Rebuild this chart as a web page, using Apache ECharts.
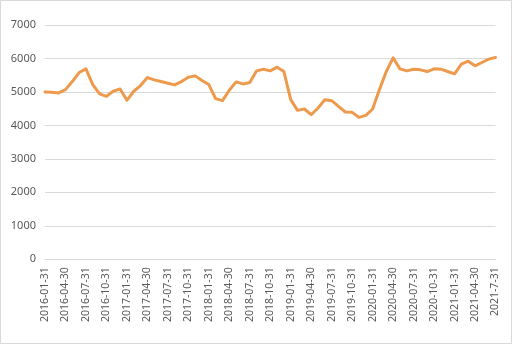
<!DOCTYPE html>
<html>
<head>
<meta charset="utf-8">
<script src="https://cdn.jsdelivr.net/npm/echarts@6/dist/echarts.min.js"></script>
<style>
html,body{margin:0;padding:0;background:#fff;}
#chart{width:513px;height:345px;}
</style>
</head>
<body>
<div id="chart"></div>
<script>
const categories = [
"2016-01-31","2016-02-29","2016-03-31","2016-04-30","2016-05-31","2016-06-30","2016-07-31","2016-08-31","2016-09-30","2016-10-31","2016-11-30","2016-12-31",
"2017-01-31","2017-02-28","2017-03-31","2017-04-30","2017-05-31","2017-06-30","2017-07-31","2017-08-31","2017-09-30","2017-10-31","2017-11-30","2017-12-31",
"2018-01-31","2018-02-28","2018-03-31","2018-04-30","2018-05-31","2018-06-30","2018-07-31","2018-08-31","2018-09-30","2018-10-31","2018-11-30","2018-12-31",
"2019-01-31","2019-02-28","2019-03-31","2019-04-30","2019-05-31","2019-06-30","2019-07-31","2019-08-31","2019-09-30","2019-10-31","2019-11-30","2019-12-31",
"2020-01-31","2020-02-29","2020-03-31","2020-04-30","2020-05-31","2020-06-30","2020-07-31","2020-08-31","2020-09-30","2020-10-31","2020-11-30","2020-12-31",
"2021-01-31","2021-02-28","2021-03-31","2021-04-30","2021-05-31","2021-06-30","2021-7-31"
];
const values = [
5000,4990,4970,5070,5310,5580,5690,5220,4940,4870,5020,5090,
4750,5020,5190,5430,5360,5310,5260,5210,5310,5440,5480,5340,
5220,4800,4740,5050,5300,5240,5280,5630,5680,5630,5740,5610,
4770,4450,4490,4320,4520,4770,4740,4570,4400,4390,4240,4300,
4490,5070,5610,6020,5690,5630,5680,5660,5610,5690,5680,5610,
5540,5830,5920,5780,5880,5980,6030
];
const yTicks = {min:0, max:7000, step:1000};

const chart = echarts.init(document.getElementById('chart'));
chart.setOption({
  animation:false,
  backgroundColor:'#ffffff',
  graphic:[{type:'rect',shape:{x:0.5,y:0.5,width:511,height:343},style:{fill:'none',stroke:'#d9d9d9',lineWidth:1},silent:true}],
  grid:{left:45,right:17.5,top:25,bottom:85.7,containLabel:false},
  xAxis:{
    type:'category',
    data:categories,
    boundaryGap:false,
    axisLine:{show:true,lineStyle:{color:'#d9d9d9',width:1}},
    axisTick:{show:false},
    axisLabel:{interval:2,rotate:90,margin:8,color:'#595959',fontSize:10.5,fontFamily:'Noto Sans'},
    splitLine:{show:false}
  },
  yAxis:{
    type:'value',
    min:yTicks.min,max:yTicks.max,interval:yTicks.step,
    axisLine:{show:false},
    axisTick:{show:false},
    axisLabel:{margin:9,color:'#595959',fontSize:11,fontFamily:'Noto Sans',formatter:function(v){return String(v);}},
    splitLine:{lineStyle:{color:'#d9d9d9',width:1}}
  },
  series:[{
    type:'line',
    data:values,
    symbol:'none',
    smooth:false,
    lineStyle:{color:'#EE9A4D',width:3,cap:'round',join:'round'}
  }]
});
</script>
</body>
</html>
